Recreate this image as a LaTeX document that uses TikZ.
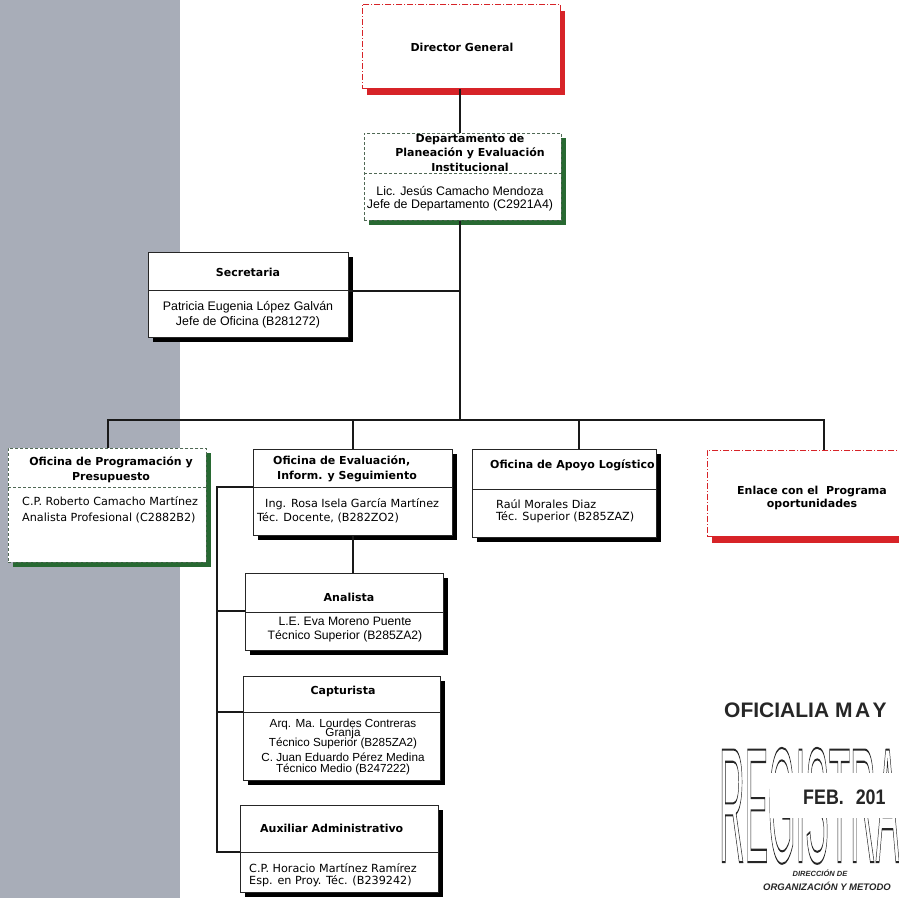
\documentclass[tikz,border=0pt]{standalone}
\usepackage{fontspec}
\setmainfont{Liberation Sans}
\newfontfamily\hd{DejaVu Sans}
\newfontfamily\tah{DejaVu Sans}
\usepackage{graphicx}
\usetikzlibrary{shadows}
\definecolor{band}{RGB}{168,173,184}
\definecolor{dred}{RGB}{215,35,40}
\definecolor{dgreen}{RGB}{40,105,50}
\definecolor{gdash}{RGB}{80,105,85}
\newcommand\outl[1]{\special{pdf:literal direct 1 Tr 2 w}#1\special{pdf:literal direct 0 Tr}}
\tikzset{
  conn/.style={draw=black!90, line width=1.1pt},
  divline/.style={draw=black!85, line width=0.8pt},
  gdiv/.style={draw=gdash, line width=0.8pt, dash pattern=on 3pt off 2pt},
  bbox/.style={draw=black!85, line width=0.8pt, fill=white, inner sep=0, anchor=north west,
     drop shadow={shadow xshift=5pt, shadow yshift=-5pt, opacity=1, fill=black}},
  gbox/.style={draw=gdash, line width=0.8pt, dash pattern=on 3pt off 2pt, fill=white, inner sep=0, anchor=north west,
     drop shadow={shadow xshift=5pt, shadow yshift=-5pt, opacity=1, fill=dgreen}},
  rbox/.style={draw=dred, line width=0.8pt, dash pattern=on 6pt off 2pt on 1pt off 2pt, fill=white, inner sep=0, anchor=north west,
     drop shadow={shadow xshift=5pt, shadow yshift=-7pt, opacity=1, fill=dred}},
  hdf/.style={font=\hd\bfseries\fontsize{11}{14.5}\selectfont, inner sep=0, text=black},
  bodyf/.style={font=\fontsize{12.4}{13}\selectfont, inner sep=0, text=black},
  tahf/.style={font=\tah\fontsize{11.2}{14}\selectfont, inner sep=0, text=black},
}
\begin{document}
\begin{tikzpicture}[x=1pt,y=-1pt]
\useasboundingbox (0,0) rectangle (899,898);
\fill[band] (0,0) rectangle (180,898);

% boxes
\node[rbox, minimum width=198pt, minimum height=84pt] (dir) at (362,4) {};
\node[gbox, minimum width=197pt, minimum height=87pt] (dep) at (364,133) {};
\node[bbox, minimum width=200pt, minimum height=85pt] (sec) at (148,252) {};
\node[gbox, minimum width=198pt, minimum height=114pt] (prog) at (8,448) {};
\node[bbox, minimum width=199pt, minimum height=86pt] (eva) at (253,449) {};
\node[bbox, minimum width=184pt, minimum height=88pt] (log) at (472,449) {};
\node[rbox, minimum width=210pt, minimum height=86pt] (enl) at (707,450) {};
\node[bbox, minimum width=198pt, minimum height=77pt] (ana) at (245,573) {};
\node[bbox, minimum width=197pt, minimum height=104pt] (cap) at (243,676) {};
\node[bbox, minimum width=198pt, minimum height=87pt] (aux) at (240,805) {};

% dividers
\draw[gdiv] (364,173) -- (561,173);
\draw[divline] (148,290) -- (348,290);
\draw[gdiv] (8,487) -- (206,487);
\draw[divline] (253,487) -- (452,487);
\draw[divline] (472,489) -- (656,489);
\draw[divline] (245,612) -- (443,612);
\draw[divline] (243,712) -- (440,712);
\draw[divline] (240,852) -- (438,852);

% connector coordinates
\coordinate (cx) at (460,420);
\coordinate (busL) at (108,420);
\coordinate (busR) at (824,420);
\coordinate (bE) at (353,420);
\coordinate (bLg) at (579,420);
\coordinate (secj) at (460,291);
\coordinate (sp1) at (217,487);
\coordinate (sp2) at (217,611);
\coordinate (sp3) at (217,712);
\coordinate (sp4) at (217,852);

\draw[conn] (dir.south -| cx) -- (dep.north -| cx);
\draw[conn] (dep.south -| cx) -- (cx);
\draw[conn] (sec.east |- secj) -- (secj);
\draw[conn] (busL |- prog.north) -- (busL) -- (busR) -- (busR |- enl.north);
\draw[conn] (bE) -- (bE |- eva.north);
\draw[conn] (bLg) -- (bLg |- log.north);
\draw[conn] (eva.south -| bE) -- (ana.north -| bE);
\draw[conn] (sp1 -| eva.west) -- (sp1) -- (sp4) -- (sp4 -| aux.west);
\draw[conn] (sp2) -- (sp2 -| ana.west);
\draw[conn] (sp3) -- (sp3 -| cap.west);

% texts
\node[hdf] (dirT) at (462,47) {Director General};
\node[hdf, align=center] (depH) at (470,152.5) {Departamento de\\Planeación y Evaluación\\Institucional};
\node[bodyf, align=center] (depB) at (460,199) {Lic. Jesús Camacho Mendoza\\Jefe de Departamento (C2921A4)};
\node[hdf] (secH) at (248,272) {Secretaria};
\node[bodyf, align=center, font=\fontsize{12.4}{15}\selectfont] (secB) at (248,314.5) {Patricia Eugenia López Galván\\Jefe de Oficina (B281272)};
\node[hdf, align=center, font=\hd\bfseries\fontsize{11}{15}\selectfont] (progH) at (111,469.5) {Oficina de Programación y\\Presupuesto};
\node[tahf, align=left, anchor=west, font=\tah\fontsize{11.2}{16}\selectfont] (progB) at (22,510) {C.P. Roberto Camacho Martínez\\Analista Profesional (C2882B2)};
\node[hdf, align=left, anchor=west] (evaH) at (273,469) {Oficina de Evaluación,\\\hspace{4pt}Inform. y Seguimiento};
\node[tahf, anchor=west] (evaB1) at (265,504) {Ing. Rosa Isela García Martínez};
\node[tahf, anchor=west] (evaB2) at (257,518) {Téc. Docente, (B282ZO2)};
\node[hdf, anchor=west] (logH) at (490,465) {Oficina de Apoyo Logístico};
\node[tahf, align=left, anchor=west, font=\tah\fontsize{11.2}{12.5}\selectfont] (logB) at (496,511) {Raúl Morales Diaz\\Téc. Superior (B285ZAZ)};
\node[hdf, align=center, font=\hd\bfseries\fontsize{11}{13}\selectfont] (enlT) at (812,497.5) {Enlace con el\ \ Programa\\oportunidades};
\node[hdf] (anaH) at (349,597) {Analista};
\node[bodyf, align=center, font=\fontsize{12.2}{14}\selectfont] (anaB) at (345,630) {L.E. Eva Moreno Puente\\Técnico Superior (B285ZA2)};
\node[hdf] (capH) at (343,691) {Capturista};
\node[bodyf, font=\fontsize{11.7}{12}\selectfont] (capB1) at (343,724) {Arq. Ma. Lourdes Contreras};
\node[bodyf, font=\fontsize{11.7}{12}\selectfont] (capB2) at (343,733.5) {Granja};
\node[bodyf, font=\fontsize{11.7}{12}\selectfont] (capB3) at (343,743) {Técnico Superior (B285ZA2)};
\node[bodyf, font=\fontsize{11.7}{12}\selectfont] (capB4) at (343,757) {C. Juan Eduardo Pérez Medina};
\node[bodyf, font=\fontsize{11.7}{12}\selectfont] (capB5) at (343,769) {Técnico Medio (B247222)};
\node[hdf, anchor=west] (auxH) at (260,828) {Auxiliar Administrativo};
\node[tahf, align=left, anchor=west, font=\tah\fontsize{11.2}{12.5}\selectfont] (auxB) at (249,875) {C.P. Horacio Martínez Ramírez\\Esp. en Proy. Téc. (B239242)};

% stamp
\node[anchor=west, inner sep=0, font=\bfseries\fontsize{21}{21}\selectfont, text=black!85] (st1) at (724,710) {OFICIALIA M\kern2.5pt A\kern2.5pt Y};
\node[anchor=south west, inner sep=0, text=black!85] (st2) at (719,864) {\resizebox{180pt}{!}{\scalebox{0.215}[1]{\fontsize{160}{160}\selectfont\outl{REGISTRA}}}};
\fill[white] (770,773) rectangle (905,818);
\node[anchor=west, inner sep=0, font=\bfseries\fontsize{21}{21}\selectfont, text=black!85] (st3) at (803,797) {\scalebox{0.85}[1]{FEB.\hspace{14pt}201}};
\node[inner sep=0, font=\bfseries\itshape\fontsize{7.5}{7.5}\selectfont, text=black!85] (st4) at (820,873) {DIRECCIÓN DE};
\node[anchor=west, inner sep=0, font=\bfseries\itshape\fontsize{9.5}{9.5}\selectfont, text=black!85] (st5) at (763,886) {ORGANIZACIÓN Y METODO};
\end{tikzpicture}
\end{document}
